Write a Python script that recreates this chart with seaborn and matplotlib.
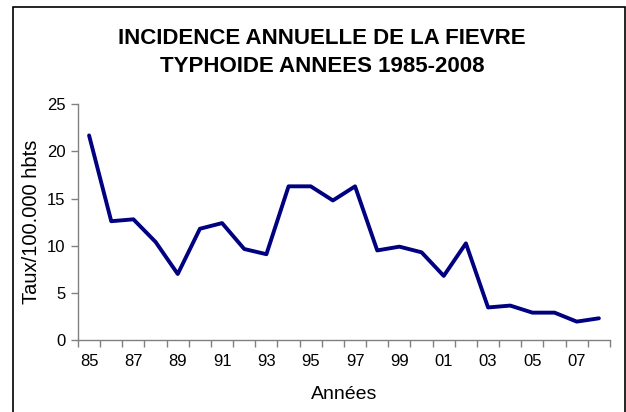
import matplotlib
matplotlib.use("Agg")
import matplotlib.pyplot as plt
import seaborn as sns
import pandas as pd
from matplotlib.patches import Rectangle

# Données
annees = [1985, 1986, 1987, 1988, 1989, 1990, 1991, 1992, 1993, 1994, 1995, 1996,
          1997, 1998, 1999, 2000, 2001, 2002, 2003, 2004, 2005, 2006, 2007, 2008]
taux = [21.7, 12.6, 12.8, 10.4, 7.0, 11.8, 12.4, 9.65, 9.1, 16.3, 16.3, 14.8,
        16.3, 9.5, 9.9, 9.3, 6.8, 10.25, 3.45, 3.65, 2.9, 2.9, 1.95, 2.3]
etiquettes = [str(a)[2:] for a in annees]

df = pd.DataFrame({"pos": range(len(annees)), "taux": taux})

sns.set_style("white")
plt.rcParams["font.family"] = ["Liberation Sans", "DejaVu Sans"]
plt.rcParams["text.color"] = "black"
plt.rcParams["axes.labelcolor"] = "black"
plt.rcParams["xtick.labelcolor"] = "black"
plt.rcParams["ytick.labelcolor"] = "black"

fig = plt.figure(figsize=(6.26, 4.12), dpi=100)
ax = fig.add_axes([0.1246, 0.1748, 0.8498, 0.572])

sns.lineplot(data=df, x="pos", y="taux", color="#000080", linewidth=2.8, ax=ax)

# axe de catégories façon Excel
ax.set_xlim(-0.5, len(annees) - 0.5)
ax.set_ylim(0, 25)
ax.set_yticks([0, 5, 10, 15, 20, 25])
ax.set_xticks([i - 0.5 for i in range(len(annees) + 1)])
ax.set_xticklabels([])
ax.set_xticks(range(0, len(annees), 2), minor=True)
ax.set_xticklabels(etiquettes[::2], minor=True)
ax.tick_params(axis="x", which="major", direction="out", length=5, width=1, color="#808080", bottom=True)
ax.tick_params(axis="x", which="minor", length=0, pad=10, labelsize=12)
ax.tick_params(axis="y", direction="out", length=5, width=1, color="#808080", left=True, labelsize=12, pad=4)

for s in ["top", "right"]:
    ax.spines[s].set_visible(False)
for s in ["left", "bottom"]:
    ax.spines[s].set_color("#808080")
    ax.spines[s].set_linewidth(1)

ax.set_xlabel("Années", fontsize=14, labelpad=12)
ax.set_ylabel("Taux/100.000 hbts", fontsize=14.5, labelpad=4)

fig.text(0.514, 0.873, "INCIDENCE ANNUELLE DE LA FIEVRE\nTYPHOIDE ANNEES 1985-2008",
         ha="center", va="center", fontsize=16, fontweight="bold", linespacing=1.45)

# cadre autour du graphique
fig.patches.append(Rectangle((13 / 626, -0.01), 612 / 626, 1 - 7 / 412 + 0.01,
                             transform=fig.transFigure, fill=False,
                             edgecolor="black", linewidth=1.2))

fig.savefig("out.png", dpi=100)
